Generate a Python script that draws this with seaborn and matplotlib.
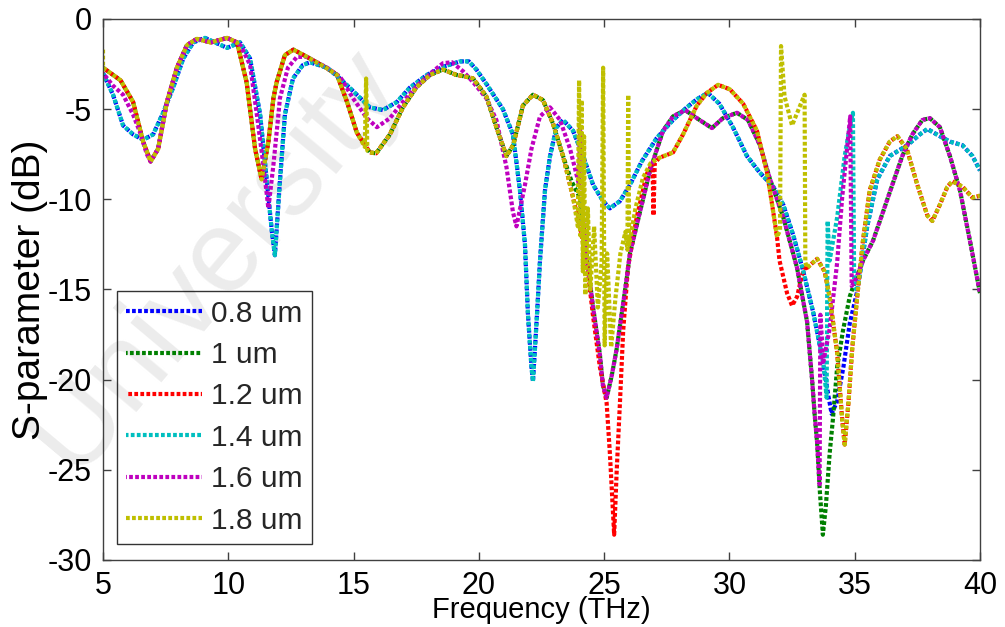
import matplotlib
matplotlib.use("Agg")
import matplotlib.pyplot as plt
import seaborn as sns
import pandas as pd
from matplotlib import font_manager

# ------------------------------------------------------------------
# Data (frequency in THz, S in dB)
# ------------------------------------------------------------------
series_labels = ["0.8 um", "1 um", "1.2 um", "1.4 um", "1.6 um", "1.8 um"]
series_colors = ["#0000ff", "#008000", "#ff0000", "#00bfbf", "#bf00bf", "#bfbf00"]
x_ticks = [5, 10, 15, 20, 25, 30, 35, 40]
y_ticks = [-30, -25, -20, -15, -10, -5, 0]

# curve shared by 1 / 1.2 / 1.8 um, 5 - 15.1 THz
orange_a_f = [5.0, 5.4, 5.7, 6.2, 6.6, 6.9, 7.2, 7.55, 7.95, 8.35, 8.75, 9.3, 9.95,
              10.35, 10.73, 11.07, 11.33, 11.6, 11.8, 11.93, 12.26, 12.6, 13.14,
              13.9, 14.34, 14.74, 15.13]
orange_a_v = [-2.7, -3.1, -3.4, -4.6, -6.8, -7.9, -7.2, -4.6, -2.7, -1.45, -1.1, -1.3, -1.05,
              -1.3, -3.5, -7.2, -8.9, -6.8, -4.4, -3.5, -2.0, -1.7, -2.1,
              -2.7, -3.1, -4.6, -6.3]
# curve shared by 1 / 1.2 / 1.8 um, 15.6 - 23.4 THz
orange_b_f = [15.65, 15.9, 16.45, 16.97, 17.5, 18.05, 18.57, 19.1, 19.5, 19.77, 20.3, 20.7,
              21.1, 21.37, 21.76, 22.16, 22.56, 22.96, 23.36]
orange_b_v = [-7.4, -7.45, -6.4, -4.9, -3.8, -3.1, -2.8, -3.1, -3.2, -3.3, -4.3, -6.0,
              -7.6, -7.0, -4.8, -4.2, -4.5, -5.8, -7.6]
# curve shared by 1.2 / 1.8 um, 27.2 - 31.9 THz
orange_mid_f = [27.2, 27.75, 28.15, 28.7, 29.1, 29.55, 30.02, 30.55, 31.1, 31.5, 31.75, 31.9]
orange_mid_v = [-7.7, -7.4, -6.4, -4.8, -4.1, -3.65, -3.9, -4.7, -6.2, -8.5, -10.7, -12.1]
# curve shared by 1.2 / 1.8 um, 33.1 - 40 THz
orange_late_f = [33.1, 33.5, 33.8, 34.0, 34.3, 34.5, 34.6, 34.75, 34.9, 35.1, 35.33, 35.6,
                 36.0, 36.4, 36.7, 37.08, 37.5, 37.9, 38.1, 38.4, 38.7, 38.9, 39.3, 39.7, 40.0]
orange_late_v = [-13.8, -13.3, -14.0, -15.4, -18.5, -22.2, -23.6, -21.3, -18.3, -15.4, -12.3, -9.5,
                 -7.8, -6.8, -6.5, -7.2, -9.2, -10.9, -11.2, -10.3, -9.3, -9.0, -9.3, -9.9, -9.8]

# 1.2 um own parts
red_dip_f = [23.76, 24.03, 24.3, 24.55, 24.83, 25.1, 25.23, 25.4, 25.5, 25.63, 25.76, 25.95,
             26.3, 26.7, 26.93, 26.97, 27.02]
red_dip_v = [-9.9, -11.5, -13.4, -16.4, -19.3, -21.3, -24.1, -28.6, -25.1, -21.3, -17.3, -13.8,
             -11.0, -8.6, -8.0, -10.9, -8.0]
red_dip2_f = [32.0, 32.3, 32.5, 32.7, 32.9, 33.05]
red_dip2_v = [-13.4, -15.2, -15.9, -15.4, -14.2, -13.7]

# 1.8 um own parts
yellow_start_f = [5.0]
yellow_start_v = [-1.7]
yellow_spike15_f = [15.45, 15.5, 15.55]
yellow_spike15_v = [-7.1, -3.3, -7.3]
yellow_spikes24_f = [23.76, 23.95, 24.0, 24.05, 24.1, 24.15, 24.2, 24.25, 24.35, 24.45, 24.6,
                     24.75, 24.9, 24.96, 25.02, 25.12, 25.28, 25.45, 25.65, 25.85, 25.93,
                     25.96, 26.0, 26.25, 26.55, 26.85]
yellow_spikes24_v = [-9.9, -11.5, -3.4, -12.0, -4.5, -14.0, -6.5, -15.3, -10.5, -15.0, -11.5,
                     -16.0, -13.5, -2.7, -18.1, -13.0, -18.2, -15.5, -13.0, -11.8, -12.8,
                     -4.2, -12.5, -10.5, -8.8, -8.0]
yellow_spike32_f = [32.02, 32.06, 32.2, 32.5, 32.75, 33.0, 33.03]
yellow_spike32_v = [-11.7, -1.5, -4.3, -5.9, -5.05, -4.2, -13.5]

# curve shared by 1 / 1.6 um, 24.3 - 33.5 THz
dark_mid_f = [24.3, 24.55, 24.83, 24.95, 25.1, 25.3, 25.5, 25.9, 26.03, 26.43, 26.83, 27.35,
              27.75, 28.23, 28.7, 29.3, 29.74, 30.3, 30.74, 31.22, 31.6, 32.15, 32.7, 33.1,
              33.3, 33.4, 33.5]
dark_mid_v = [-13.1, -15.9, -18.6, -20.3, -21.0, -19.8, -18.3, -14.4, -13.0, -10.7, -8.4, -6.2,
              -5.4, -5.05, -5.5, -6.05, -5.5, -5.2, -5.6, -7.0, -8.8, -11.0, -13.8, -16.8,
              -20.0, -21.9, -23.5]
# curve shared by 1 / 1.6 um, 35.3 - 40 THz
dark_late_f = [35.33, 35.73, 36.13, 36.5, 36.9, 37.3, 37.7, 38.0, 38.4, 38.8, 39.2, 39.6, 40.0]
dark_late_v = [-13.4, -12.3, -10.7, -9.2, -7.6, -6.4, -5.6, -5.5, -6.0, -7.6, -9.5, -12.3, -15.2]

# 1 um own parts
green_turn_f = [23.7, 24.03]
green_turn_v = [-9.0, -9.9]
green_dip_f = [33.6, 33.73, 33.85, 34.0, 34.13, 34.3, 34.53, 34.8, 35.0]
green_dip_v = [-26.0, -28.6, -27.0, -24.1, -22.2, -19.3, -17.3, -15.4, -14.6]

# 1.6 um own parts
magenta_early_f = [5.0, 5.4, 5.8, 6.2, 6.48, 6.75, 6.9, 7.2, 7.55, 7.95, 8.35, 8.75, 9.3, 9.95,
                   10.35, 10.5, 10.87, 11.14, 11.4, 11.6, 11.8, 12.0, 12.06, 12.38, 12.74,
                   13.14, 13.94, 14.46, 14.98, 15.53, 15.93, 16.45, 16.97, 17.53, 18.17,
                   18.57, 18.93, 19.37, 19.77, 20.3, 20.7, 21.1, 21.36, 21.5, 21.84, 22.1,
                   22.44, 22.84, 23.24, 23.64, 24.0, 24.04, 24.08]
magenta_early_v = [-3.0, -3.7, -4.2, -5.3, -6.3, -7.5, -7.9, -7.2, -4.6, -2.7, -1.45, -1.1, -1.3, -1.05,
                   -1.3, -1.5, -2.55, -5.3, -8.1, -10.5, -8.1, -5.3, -4.4, -2.7, -2.1,
                   -2.1, -2.7, -3.2, -4.4, -5.5, -6.0, -5.5, -4.6, -3.7, -2.9,
                   -2.45, -2.4, -2.9, -3.5, -4.4, -5.6, -8.2, -10.7, -11.5, -9.2, -7.2,
                   -5.4, -4.9, -5.6, -7.2, -9.2, -6.0, -10.0]
magenta_dip_f = [33.6, 33.63, 33.75, 34.0, 34.3, 34.5, 34.7, 34.82, 34.88, 35.0]
magenta_dip_v = [-25.8, -16.4, -19.0, -17.2, -13.5, -9.9, -7.1, -5.4, -14.8, -14.6]

# curve shared by 0.8 / 1.4 um, 5 - 33.75 THz
cyan_f = [5.0, 5.4, 5.8, 6.2, 6.6, 7.0, 7.4, 7.8, 8.2, 8.6, 9.07, 9.47, 9.95, 10.47, 10.87,
          11.27, 11.54, 11.74, 11.86, 12.06, 12.26, 12.58, 12.98, 13.26, 13.94, 14.46, 15.13,
          15.65, 16.17, 16.73, 17.25, 17.93, 18.57, 19.25, 19.6, 19.9, 20.3, 20.96, 21.36,
          21.64, 21.84, 21.96, 22.1, 22.16, 22.32, 22.44, 22.64, 22.84, 23.1, 23.36, 23.76,
          24.16, 24.56, 24.96, 25.23, 25.63, 26.03, 26.5, 27.1, 27.75, 28.3, 28.7, 29.14,
          29.6, 30.14, 30.7, 31.2, 31.75, 32.15, 32.55, 32.95, 33.35, 33.75]
cyan_v = [-3.0, -4.2, -5.9, -6.4, -6.7, -6.4, -5.2, -3.8, -2.2, -1.3, -1.05, -1.3, -1.6, -1.3, -2.2,
          -5.3, -9.0, -11.8, -13.1, -9.0, -5.3, -3.3, -2.55, -2.4, -2.7, -3.3, -4.2,
          -4.9, -5.05, -4.6, -3.8, -3.1, -2.65, -2.35, -2.35, -2.8, -3.6, -5.0, -6.4,
          -9.5, -12.5, -16.4, -19.3, -20.1, -16.4, -13.4, -9.5, -7.6, -6.0, -5.6, -6.2,
          -7.6, -9.2, -10.1, -10.5, -10.1, -9.2, -7.9, -6.6, -5.6, -4.9, -4.45, -4.1,
          -4.7, -6.0, -7.6, -8.5, -9.3, -10.3, -12.0, -14.0, -16.3, -19.1]
# curve shared by 0.8 / 1.4 um, 35.5 - 40 THz
bc_late_f = [35.5, 35.9, 36.4, 37.1, 37.6, 37.9, 38.4, 38.8, 39.3, 39.7, 40.0]
bc_late_v = [-11.5, -8.9, -7.6, -7.0, -6.4, -6.1, -6.5, -6.8, -7.0, -7.6, -8.4]

# 0.8 um own part
blue_dip_f = [33.95, 34.08, 34.3, 34.55, 34.8, 35.1]
blue_dip_v = [-20.9, -21.9, -21.2, -19.3, -16.9, -15.1]
# 1.4 um own part
cyan_dip_f = [33.88, 33.92, 34.0, 34.3, 34.6, 34.8, 34.93, 34.98, 35.1]
cyan_dip_v = [-21.0, -11.2, -13.4, -11.0, -7.6, -6.0, -5.2, -14.8, -15.1]

# assemble each series from the pieces above
series_f = {
    "0.8 um": cyan_f + blue_dip_f + bc_late_f,
    "1 um": orange_a_f + orange_b_f + green_turn_f + dark_mid_f + green_dip_f + dark_late_f,
    "1.2 um": orange_a_f + orange_b_f + red_dip_f + orange_mid_f + red_dip2_f + orange_late_f,
    "1.4 um": cyan_f + cyan_dip_f + bc_late_f,
    "1.6 um": magenta_early_f + dark_mid_f + magenta_dip_f + dark_late_f,
    "1.8 um": yellow_start_f + orange_a_f + yellow_spike15_f + orange_b_f + yellow_spikes24_f
              + orange_mid_f + yellow_spike32_f + orange_late_f,
}
series_v = {
    "0.8 um": cyan_v + blue_dip_v + bc_late_v,
    "1 um": orange_a_v + orange_b_v + green_turn_v + dark_mid_v + green_dip_v + dark_late_v,
    "1.2 um": orange_a_v + orange_b_v + red_dip_v + orange_mid_v + red_dip2_v + orange_late_v,
    "1.4 um": cyan_v + cyan_dip_v + bc_late_v,
    "1.6 um": magenta_early_v + dark_mid_v + magenta_dip_v + dark_late_v,
    "1.8 um": yellow_start_v + orange_a_v + yellow_spike15_v + orange_b_v + yellow_spikes24_v
              + orange_mid_v + yellow_spike32_v + orange_late_v,
}

# ------------------------------------------------------------------
sns.set_theme(style="white")
installed = {f.name for f in font_manager.fontManager.ttflist}
narrow = "Liberation Sans Narrow" if "Liberation Sans Narrow" in installed else "Liberation Sans"
plt.rcParams["font.family"] = ["Liberation Sans", "DejaVu Sans"]

fig = plt.figure(figsize=(10.05, 6.27), dpi=100)
fig.patch.set_facecolor("white")
ax = fig.add_axes([0.1025, 0.1069, 0.8726, 0.8628])
ax.set_facecolor("none")

# faint watermark behind the plot
fig.text(0.215, 0.585, "University", rotation=50, fontsize=84, color="#ececec",
         ha="center", va="center", zorder=-5, family="Liberation Sans")

offsets = [0.0, 0.5, 0.9, 0.3, 0.7, 0.0]
for lab, col, off in zip(series_labels, series_colors, offsets):
    df = pd.DataFrame({"f": series_f[lab], "s": series_v[lab]})
    sns.lineplot(data=df, x="f", y="s", ax=ax, color=col, estimator=None, sort=False,
                 linewidth=3.0, label=lab)
    ln = ax.get_lines()[-1]
    ln.set_linestyle((off, (0.9, 0.55)))
    ln.set_dash_capstyle("butt")

ax.set_xlim(5, 40)
ax.set_ylim(-30, 0)
ax.set_xticks(x_ticks)
ax.set_yticks(y_ticks)
ax.set_xticklabels([str(t) for t in x_ticks], family=narrow, fontsize=22)
ax.set_yticklabels([str(t) for t in y_ticks], family=narrow, fontsize=22)
ax.tick_params(direction="in", length=6, width=1, color="#404040", top=True, right=True,
               bottom=True, left=True, pad=8, labelcolor="black")
for sp in ax.spines.values():
    sp.set_visible(True)
    sp.set_color("#404040")
    sp.set_linewidth(1.0)

ax.set_xlabel("Frequency (THz)", fontsize=21, labelpad=-4, color="black")
ax.set_ylabel("S-parameter (dB)", fontsize=28, labelpad=0, color="black")

leg = ax.legend(loc="lower left", bbox_to_anchor=(0.016, 0.03), borderaxespad=0,
                fontsize=21.5, frameon=True, fancybox=False, shadow=False,
                handlelength=2.55, handletextpad=0.3, labelspacing=0.45, borderpad=0.3)
leg.get_frame().set_edgecolor("black")
leg.get_frame().set_linewidth(1.0)
leg.get_frame().set_facecolor("none")

fig.savefig("out.png", dpi=100, facecolor="white")
